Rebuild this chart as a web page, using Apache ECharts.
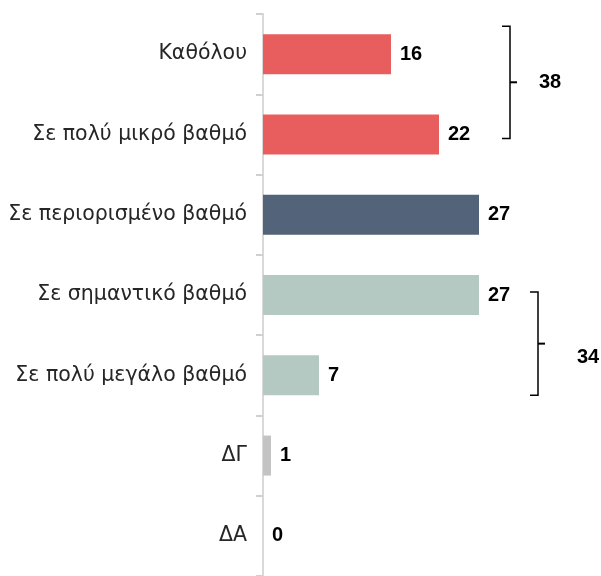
<!DOCTYPE html>
<html>
<head>
<meta charset="utf-8">
<script src="https://cdn.jsdelivr.net/npm/echarts@6/dist/echarts.min.js"></script>
<style>
  html, body { margin: 0; padding: 0; background: #fff; }
  #main { width: 601px; height: 576px; }
</style>
</head>
<body>
<div id="main"></div>
<script>
// κατηγορίες και τιμές (%)
var categories = ['Καθόλου', 'Σε πολύ μικρό βαθμό', 'Σε περιορισμένο βαθμό', 'Σε σημαντικό βαθμό', 'Σε πολύ μεγάλο βαθμό', 'ΔΓ', 'ΔΑ'];
var values = [16, 22, 27, 27, 7, 1, 0];
var barColors = ['#E85E5F', '#E85E5F', '#52637A', '#B4C9C1', '#B4C9C1', '#C3C3C3', '#C3C3C3'];
// αθροίσματα ομάδων (αγκύλες)
var groupLabels = ['38', '34'];
var groupRanges = [[0, 1], [3, 4]];

var valueFont = '"Liberation Sans", sans-serif';

var myChart = echarts.init(document.getElementById('main'));

var option = {
    animation: false,
    grid: { left: 263, right: 18, top: 14, bottom: -6, containLabel: false },
    xAxis: {
        type: 'value',
        min: 0,
        max: 40,
        show: false
    },
    yAxis: {
        type: 'category',
        data: categories,
        inverse: true,
        axisLine: { lineStyle: { color: '#D9D9D9', width: 2 } },
        axisTick: { show: true, length: 7, lineStyle: { color: '#D0D0D0', width: 2 } },
        axisLabel: {
            margin: 16,
            fontFamily: 'DejaVu Sans',
            fontSize: 20.5,
            color: '#262626'
        }
    },
    series: [{
        type: 'bar',
        barWidth: 40,
        data: values.map(function (v, i) {
            return { value: v, itemStyle: { color: barColors[i] } };
        }),
        label: {
            show: true,
            position: 'right',
            distance: 9,
            fontFamily: valueFont,
            fontWeight: 'bold',
            fontSize: 20,
            color: '#000'
        }
    }]
};
myChart.setOption(option);

// αγκύλες
function yOf(i) { return myChart.convertToPixel({ yAxisIndex: 0 }, categories[i]); }
var brackets = [
    { x: 510, top: yOf(groupRanges[0][0]) - 28, bottom: yOf(groupRanges[0][1]) + 4, lx: 550, ly: 0 },
    { x: 538, top: yOf(groupRanges[1][0]) - 3, bottom: yOf(groupRanges[1][1]) + 20, lx: 588, ly: 14 }
];
var graphics = [];
brackets.forEach(function (b, k) {
    var mid = (b.top + b.bottom) / 2;
    graphics.push({
        type: 'polyline',
        shape: { points: [[b.x - 8, b.top], [b.x, b.top], [b.x, b.bottom], [b.x - 8, b.bottom]] },
        style: { stroke: '#000', lineWidth: 1.5, fill: null }
    });
    graphics.push({
        type: 'line',
        shape: { x1: b.x, y1: mid, x2: b.x + 7, y2: mid },
        style: { stroke: '#000', lineWidth: 2 }
    });
    graphics.push({
        type: 'text',
        x: b.lx, y: mid + b.ly,
        style: {
            text: groupLabels[k],
            align: 'center', verticalAlign: 'middle',
            fontFamily: valueFont, fontWeight: 'bold', fontSize: 20, fill: '#000'
        }
    });
});
myChart.setOption({ graphic: graphics });
</script>
</body>
</html>
